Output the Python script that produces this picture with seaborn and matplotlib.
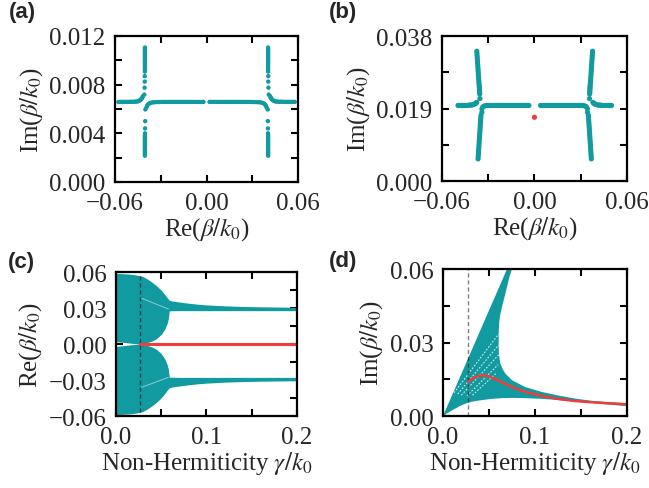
import matplotlib
matplotlib.use("agg")
import matplotlib.pyplot as plt
import seaborn as sns

TEAL = "#119a9f"
RED = "#f23b3b"

# ---------------- panel (a): Im vs Re eigenvalues ----------------
a_outer_left_x = [-0.0578, -0.0568, -0.0558, -0.0548, -0.0538, -0.0528, -0.0518, -0.0508, -0.0498, -0.0488,
                  -0.0478, -0.0468, -0.0458, -0.0450, -0.0443, -0.0437, -0.0431, -0.0426, -0.0421, -0.0417]
a_outer_right_x = [0.0578, 0.0568, 0.0558, 0.0548, 0.0538, 0.0528, 0.0518, 0.0508, 0.0498, 0.0488,
                   0.0478, 0.0468, 0.0458, 0.0450, 0.0443, 0.0437, 0.0431, 0.0426, 0.0421, 0.0417]
a_outer_y = [0.00658, 0.00658, 0.00658, 0.00658, 0.00658, 0.00658, 0.00658, 0.00658, 0.00659, 0.00659,
             0.00659, 0.00660, 0.00661, 0.00663, 0.00666, 0.00670, 0.00676, 0.00684, 0.00694, 0.00705]

a_up_left_x = [-0.0404, -0.0404, -0.0404, -0.0404, -0.0404, -0.0404, -0.0404, -0.0404, -0.0404, -0.0404,
               -0.0404, -0.0404, -0.0404, -0.0404, -0.0404, -0.0405, -0.0405, -0.0406, -0.0408]
a_up_right_x = [0.0404, 0.0404, 0.0404, 0.0404, 0.0404, 0.0404, 0.0404, 0.0404, 0.0404, 0.0404,
                0.0404, 0.0404, 0.0404, 0.0404, 0.0404, 0.0405, 0.0405, 0.0406, 0.0408]
a_up_y = [0.01105, 0.01092, 0.01079, 0.01066, 0.01053, 0.01040, 0.01027, 0.01014, 0.01001, 0.00988,
          0.00974, 0.00959, 0.00943, 0.00926, 0.00907, 0.00870, 0.00825, 0.00775, 0.00718]

a_low_left_x = [-0.0401, -0.0402, -0.0403, -0.0403, -0.0404, -0.0404, -0.0404, -0.0404, -0.0404,
                -0.0404, -0.0404, -0.0404, -0.0404, -0.0404, -0.0404, -0.0404, -0.0404, -0.0404]
a_low_right_x = [0.0401, 0.0402, 0.0403, 0.0403, 0.0404, 0.0404, 0.0404, 0.0404, 0.0404,
                 0.0404, 0.0404, 0.0404, 0.0404, 0.0404, 0.0404, 0.0404, 0.0404, 0.0404]
a_low_y = [0.00596, 0.00500, 0.00440, 0.00400, 0.00385, 0.00372, 0.00359, 0.00346, 0.00333,
           0.00320, 0.00307, 0.00294, 0.00281, 0.00268, 0.00255, 0.00242, 0.00229, 0.00216]

a_inner_left_x = [-0.0394, -0.0389, -0.0383, -0.0376, -0.0368, -0.0358, -0.0347, -0.0335, -0.0322, -0.0308,
                  -0.0294, -0.0280, -0.0266, -0.0252, -0.0238, -0.0224, -0.0210, -0.0196, -0.0182, -0.0168,
                  -0.0154, -0.0140, -0.0126, -0.0112, -0.0098, -0.0084, -0.0070, -0.0056, -0.0042, -0.0028, -0.0020]
a_inner_right_x = [0.0394, 0.0389, 0.0383, 0.0376, 0.0368, 0.0358, 0.0347, 0.0335, 0.0322, 0.0308,
                   0.0294, 0.0280, 0.0266, 0.0252, 0.0238, 0.0224, 0.0210, 0.0196, 0.0182, 0.0168,
                   0.0154, 0.0140, 0.0126, 0.0112, 0.0098, 0.0084, 0.0070, 0.0056, 0.0042, 0.0028, 0.0020]
a_inner_y = [0.00612, 0.00628, 0.00638, 0.00645, 0.00650, 0.00653, 0.00655, 0.00656, 0.00657, 0.00657,
             0.00658, 0.00658, 0.00658, 0.00658, 0.00658, 0.00658, 0.00658, 0.00658, 0.00658, 0.00658,
             0.00658, 0.00658, 0.00658, 0.00658, 0.00658, 0.00658, 0.00658, 0.00658, 0.00658, 0.00658, 0.00658]

# ---------------- panel (b) ----------------
b_outer_left_x = [-0.0496, -0.0488, -0.0480, -0.0472, -0.0464, -0.0456, -0.0448, -0.0440, -0.0432,
                  -0.0424, -0.0416, -0.0408, -0.0400, -0.0393, -0.0386, -0.0380, -0.0375]
b_outer_right_x = [0.0500, 0.0492, 0.0484, 0.0476, 0.0468, 0.0460, 0.0452, 0.0444, 0.0436,
                   0.0428, 0.0420, 0.0412, 0.0404, 0.0397, 0.0390, 0.0384, 0.0379]
b_outer_y = [0.0198, 0.0198, 0.0198, 0.0198, 0.0198, 0.0198, 0.0198, 0.0198, 0.0198,
             0.0199, 0.0199, 0.0199, 0.0200, 0.0201, 0.0202, 0.0204, 0.0206]

b_up_left_x = [-0.0374, -0.0373, -0.0372, -0.0371, -0.0370, -0.0369, -0.0368, -0.0367, -0.0366, -0.0365,
               -0.0364, -0.0363, -0.0362, -0.0361, -0.0360, -0.0359, -0.0358, -0.0357, -0.0357, -0.0356,
               -0.0356, -0.0355, -0.0354]
b_up_right_x = [0.0377, 0.0376, 0.0375, 0.0374, 0.0373, 0.0372, 0.0371, 0.0370, 0.0369, 0.0368,
                0.0367, 0.0366, 0.0365, 0.0364, 0.0363, 0.0362, 0.0361, 0.0360, 0.0360, 0.0359,
                0.0359, 0.0358, 0.0357]
b_up_y = [0.0340, 0.0334, 0.0328, 0.0322, 0.0316, 0.0310, 0.0304, 0.0298, 0.0292, 0.0286,
          0.0280, 0.0274, 0.0268, 0.0262, 0.0257, 0.0252, 0.0248, 0.0244, 0.0240, 0.0236,
          0.0232, 0.0228, 0.0216]

b_low_left_x = [-0.0341, -0.0347, -0.0348, -0.0349, -0.0350, -0.0351, -0.0352, -0.0353, -0.0354, -0.0355,
                -0.0356, -0.0357, -0.0358, -0.0359, -0.0360, -0.0361, -0.0362, -0.0363, -0.0364, -0.0365, -0.0366]
b_low_right_x = [0.0344, 0.0350, 0.0351, 0.0352, 0.0353, 0.0354, 0.0355, 0.0356, 0.0357, 0.0358,
                 0.0359, 0.0360, 0.0361, 0.0362, 0.0363, 0.0364, 0.0365, 0.0366, 0.0367, 0.0368, 0.0369]
b_low_y = [0.0180, 0.0172, 0.0166, 0.0160, 0.0154, 0.0148, 0.0142, 0.0136, 0.0130, 0.0124,
           0.0118, 0.0112, 0.0106, 0.0100, 0.0094, 0.0088, 0.0082, 0.0076, 0.0070, 0.0064, 0.0058]

b_inner_left_x = [-0.0341, -0.0335, -0.0328, -0.0320, -0.0310, -0.0298, -0.0286, -0.0274, -0.0262, -0.0250,
                  -0.0238, -0.0226, -0.0214, -0.0202, -0.0190, -0.0178, -0.0166, -0.0154, -0.0142, -0.0130,
                  -0.0118, -0.0106, -0.0094, -0.0082, -0.0070, -0.0058, -0.0046, -0.0036]
b_inner_right_x = [0.0344, 0.0338, 0.0331, 0.0323, 0.0313, 0.0301, 0.0289, 0.0277, 0.0265, 0.0253,
                   0.0241, 0.0229, 0.0217, 0.0205, 0.0193, 0.0181, 0.0169, 0.0157, 0.0145, 0.0133,
                   0.0121, 0.0109, 0.0097, 0.0085, 0.0073, 0.0061, 0.0049, 0.0040]
b_inner_y = [0.0189, 0.0194, 0.0196, 0.0197, 0.0198, 0.0198, 0.0198, 0.0198, 0.0198, 0.0198,
             0.0198, 0.0198, 0.0198, 0.0198, 0.0198, 0.0198, 0.0198, 0.0198, 0.0198, 0.0198,
             0.0198, 0.0198, 0.0198, 0.0198, 0.0198, 0.0198, 0.0198, 0.0198]

b_red_x = [0.0]
b_red_y = [0.0167]

# ---------------- panel (c): Re(beta) vs gamma ----------------
c_gamma = [0.0, 0.005, 0.01, 0.015, 0.02, 0.0265, 0.03, 0.035, 0.04, 0.045, 0.05, 0.054, 0.0565,
           0.0578, 0.0589, 0.062, 0.07, 0.08, 0.09, 0.1, 0.12, 0.14, 0.16, 0.18, 0.2]
c_up_top = [0.0588, 0.0587, 0.0585, 0.0582, 0.0578, 0.0569, 0.0561, 0.0540, 0.0514, 0.0484, 0.0448, 0.0412,
            0.0386, 0.0375, 0.0366, 0.0358, 0.0350, 0.0340, 0.0332, 0.0326, 0.0318, 0.0313, 0.0310, 0.0308, 0.0306]
c_up_bottom = [0.0020, 0.0016, 0.0012, 0.0008, 0.0004, 0.0, 0.0004, 0.0013, 0.0025, 0.0046, 0.0080, 0.0125,
               0.0170, 0.0208, 0.0276, 0.0277, 0.0278, 0.0278, 0.0278, 0.0278, 0.0278, 0.0278, 0.0278, 0.0278, 0.0278]
c_low_top = [-0.0020, -0.0016, -0.0012, -0.0008, -0.0004, 0.0, -0.0004, -0.0013, -0.0025, -0.0046, -0.0080, -0.0125,
             -0.0170, -0.0208, -0.0276, -0.0277, -0.0278, -0.0278, -0.0278, -0.0278, -0.0278, -0.0278, -0.0278,
             -0.0278, -0.0278]
c_low_bottom = [-0.0588, -0.0587, -0.0585, -0.0582, -0.0578, -0.0569, -0.0561, -0.0540, -0.0514, -0.0484, -0.0448,
                -0.0412, -0.0386, -0.0375, -0.0366, -0.0358, -0.0350, -0.0340, -0.0332, -0.0326, -0.0318, -0.0313,
                -0.0310, -0.0308, -0.0306]
c_streak_x = [0.0283, 0.0578]
c_streak_up_y = [0.0381, 0.0292]
c_streak_low_y = [-0.0361, -0.0278]
c_red_x = [0.0265, 0.2]
c_red_y = [0.0, 0.0]
c_ep = 0.0265

# ---------------- panel (d): Im(beta) vs gamma ----------------
d_region_x = [0.0, 0.0696, 0.0750, 0.0720, 0.0696, 0.0668, 0.0641, 0.0620, 0.0610, 0.0605, 0.0605, 0.0607,
              0.0623, 0.0650, 0.0678, 0.0750, 0.0895, 0.1076, 0.1250, 0.1438, 0.1620, 0.1800, 0.2000,
              0.2000, 0.1800, 0.1620, 0.1440, 0.1260, 0.1080, 0.0895, 0.0750, 0.0640, 0.0530, 0.0424,
              0.0335, 0.0272, 0.0180, 0.0098, 0.0040, 0.0]
d_region_y = [0.0, 0.0600, 0.0600, 0.0565, 0.0527, 0.0485, 0.0445, 0.0410, 0.0380, 0.0336, 0.0290, 0.0254,
              0.0214, 0.0190, 0.0173, 0.0146, 0.0118, 0.0098, 0.0084, 0.0071, 0.0062, 0.0056, 0.0052,
              0.0040, 0.0047, 0.0053, 0.0059, 0.0065, 0.0070, 0.0073, 0.0074, 0.0073, 0.0070, 0.0065,
              0.0060, 0.0055, 0.0040, 0.0023, 0.0010, 0.0]
d_streak_x0 = [0.012, 0.016, 0.020, 0.026, 0.032]
d_streak_y0 = [0.0095, 0.0090, 0.0085, 0.0082, 0.0085]
d_streak_x1 = [0.0605, 0.0605, 0.0605, 0.0600, 0.0580]
d_streak_y1 = [0.0335, 0.0290, 0.0250, 0.0210, 0.0175]
d_red_x = [0.0272, 0.031, 0.035, 0.040, 0.044, 0.048, 0.053, 0.060, 0.071, 0.080, 0.090, 0.100,
           0.110, 0.126, 0.144, 0.162, 0.180, 0.200]
d_red_y = [0.0139, 0.0150, 0.0159, 0.0164, 0.0166, 0.0164, 0.0157, 0.0145, 0.0125, 0.0111, 0.0098, 0.0089,
           0.0080, 0.0069, 0.0061, 0.0056, 0.0052, 0.0048]
d_ep = 0.0272

# ticks
ab_xticks = [-0.06, 0.0, 0.06]
ab_xticklabels = ["\u22120.06", "0.00", "0.06"]
ab_xminor = [-0.03, 0.03]
a_yticks = [0.0, 0.004, 0.008, 0.012]
a_yticklabels = ["0.000", "0.004", "0.008", "0.012"]
a_yminor = [0.002, 0.006, 0.010]
b_yticks = [0.0, 0.019, 0.038]
b_yticklabels = ["0.000", "0.019", "0.038"]
b_yminor = [0.0095, 0.0285]
cd_xticks = [0.0, 0.1, 0.2]
cd_xticklabels = ["0.0", "0.1", "0.2"]
cd_xminor = [0.05, 0.15]
c_yticks = [-0.06, -0.03, 0.0, 0.03, 0.06]
c_yticklabels = ["\u22120.06", "\u22120.03", "0.00", "0.03", "0.06"]
c_yminor = [-0.045, -0.015, 0.015, 0.045]
d_yticks = [0.0, 0.03, 0.06]
d_yticklabels = ["0.00", "0.03", "0.06"]
d_yminor = [0.015, 0.045]

FS = 18


def style_axes(ax, xlim, ylim, xt, xtl, xm, yt, ytl, ym, xlabel, ylabel):
    ax.set_xlim(xlim)
    ax.set_ylim(ylim)
    ax.set_xticks(xt, xtl)
    ax.set_xticks(xm, minor=True)
    ax.set_yticks(yt, ytl)
    ax.set_yticks(ym, minor=True)
    ax.tick_params(which="both", direction="in", top=True, right=True, bottom=True, left=True,
                   length=5, width=1.5, labelsize=FS, color="k")
    ax.tick_params(axis="x", which="both", pad=7)
    ax.tick_params(axis="y", which="both", pad=7)
    for sp in ax.spines.values():
        sp.set_linewidth(1.6)
        sp.set_color("k")
    ax.set_xlabel(xlabel, fontsize=FS, labelpad=1)
    ax.set_ylabel(ylabel, fontsize=FS, labelpad=3)


def dots(ax, xs, ys, s, color=TEAL):
    sns.scatterplot(x=xs, y=ys, ax=ax, s=s, color=color, linewidth=0, edgecolor="none", legend=False)


sns.set_style("white")
plt.rcParams["font.family"] = ["Liberation Serif", "DejaVu Serif"]
plt.rcParams["mathtext.fontset"] = "stix"

fig = plt.figure(figsize=(6.49, 4.89), dpi=100)
ax_a = fig.add_axes([0.1772, 0.6258, 0.2820, 0.2986])
ax_b = fig.add_axes([0.6810, 0.6278, 0.2850, 0.2965])
ax_c = fig.add_axes([0.1787, 0.1472, 0.2789, 0.2945])
ax_d = fig.add_axes([0.6826, 0.1472, 0.2835, 0.3006])

# (a)
for xs, ys in [(a_outer_left_x, a_outer_y), (a_outer_right_x, a_outer_y),
               (a_up_left_x, a_up_y), (a_up_right_x, a_up_y),
               (a_low_left_x, a_low_y), (a_low_right_x, a_low_y),
               (a_inner_left_x, a_inner_y), (a_inner_right_x, a_inner_y)]:
    dots(ax_a, xs, ys, 10)
style_axes(ax_a, (-0.06, 0.06), (0.0, 0.012), ab_xticks, ab_xticklabels, ab_xminor,
           a_yticks, a_yticklabels, a_yminor, r"Re($\beta/k_0$)", r"Im($\beta/k_0$)")

# (b)
for xs, ys in [(b_outer_left_x, b_outer_y), (b_outer_right_x, b_outer_y),
               (b_up_left_x, b_up_y), (b_up_right_x, b_up_y),
               (b_low_left_x, b_low_y), (b_low_right_x, b_low_y),
               (b_inner_left_x, b_inner_y), (b_inner_right_x, b_inner_y)]:
    dots(ax_b, xs, ys, 14)
dots(ax_b, b_red_x, b_red_y, 14, RED)
style_axes(ax_b, (-0.06, 0.06), (0.0, 0.038), ab_xticks, ab_xticklabels, ab_xminor,
           b_yticks, b_yticklabels, b_yminor, r"Re($\beta/k_0$)", r"Im($\beta/k_0$)")

# (c)
ax_c.fill_between(c_gamma, c_up_bottom, c_up_top, color=TEAL, linewidth=0)
ax_c.fill_between(c_gamma, c_low_bottom, c_low_top, color=TEAL, linewidth=0)
sns.lineplot(x=c_streak_x, y=c_streak_up_y, ax=ax_c, color="white", lw=0.8, alpha=0.45)
sns.lineplot(x=c_streak_x, y=c_streak_low_y, ax=ax_c, color="white", lw=0.8, alpha=0.45)
ax_c.vlines(c_ep, -0.0569, 0.0569, colors="k", linestyles=(0, (3, 2)), lw=1.0, alpha=0.55)
sns.lineplot(x=c_red_x, y=c_red_y, ax=ax_c, color=RED, lw=2.2)
style_axes(ax_c, (0.0, 0.2), (-0.06, 0.06), cd_xticks, cd_xticklabels, cd_xminor,
           c_yticks, c_yticklabels, c_yminor, r"Non-Hermiticity $\gamma/k_0$", r"Re($\beta/k_0$)")

# (d)
ax_d.fill(d_region_x, d_region_y, color=TEAL, linewidth=0)
for x0, y0, x1, y1 in zip(d_streak_x0, d_streak_y0, d_streak_x1, d_streak_y1):
    ax_d.plot([x0, x1], [y0, y1], color="white", lw=0.8, dashes=(1.5, 1.5), alpha=0.8)
ax_d.axvline(d_ep, color="k", ls=(0, (3, 2)), lw=1.0, alpha=0.5)
sns.lineplot(x=d_red_x, y=d_red_y, ax=ax_d, color=RED, lw=1.8)
style_axes(ax_d, (0.0, 0.2), (0.0, 0.06), cd_xticks, cd_xticklabels, cd_xminor,
           d_yticks, d_yticklabels, d_yminor, r"Non-Hermiticity $\gamma/k_0$", r"Im($\beta/k_0$)")

for lab, x, y in [("(a)", 0.014, 0.995), ("(b)", 0.507, 0.995), ("(c)", 0.012, 0.484), ("(d)", 0.507, 0.486)]:
    fig.text(x, y, lab, ha="left", va="top", fontsize=16, fontweight="bold", family="Liberation Sans")

fig.savefig("out.png", dpi=100)
plt.close(fig)
